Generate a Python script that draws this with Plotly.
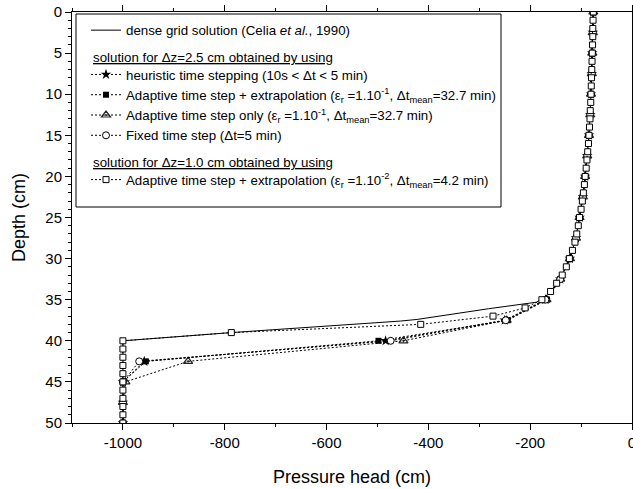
import plotly.graph_objects as go

# ---------------- data ----------------
celia_head = [-76, -78, -80.5, -84.5, -92, -103, -112, -123, -137, -148, -163, -187, -282, -422, -455, -787, -1000, -1000]
celia_depth = [0, 5, 10, 15, 20, 25, 28, 30, 32, 33, 34.3, 35.3, 36.1, 37.4, 37.6, 39.0, 40, 50]

depth_25 = [0, 2.5, 5, 7.5, 10, 12.5, 15, 17.5, 20, 22.5, 25, 27.5, 30, 32.5, 35, 37.5, 40, 42.5, 45, 47.5, 50]
heuristic = [-76, -77, -78, -79, -80.5, -82, -84.5, -88, -92, -96.5, -103, -110, -122, -141, -170, -250, -484, -958, -1000, -1000, -1000]
adaptive_extrap = [-76, -77, -78, -79, -80.5, -82, -84.5, -88, -92, -96.5, -103, -110, -122, -141, -167, -244, -498, -955, -1000, -1000, -1000]
adaptive_only = [-76, -77, -78, -79, -80.5, -82, -84.5, -88, -92, -96.5, -103, -110, -122, -141, -168, -246, -449, -872, -995, -1000, -1000]
fixed_step = [-76, -77, -78, -79, -80.5, -82, -84.5, -88, -92, -96.5, -103, -110, -122, -141, -170, -248, -474, -968, -1000, -1000, -1000]

depth_10 = [0, 1, 2, 3, 4, 5, 6, 7, 8, 9, 10, 11, 12, 13, 14, 15, 16, 17, 18, 19, 20,
            21, 22, 23, 24, 25, 26, 27, 28, 29, 30, 31, 32, 33, 34, 35, 36, 37, 38, 39, 40,
            41, 42, 43, 44, 45, 46, 47, 48, 49, 50]
adaptive_fine = [-76, -76.5, -77, -77, -77.5, -78, -78.5, -79, -79.5, -80, -80.5, -81, -82, -82.5, -83.5,
                 -84.5, -85.5, -87, -88.5, -90, -92, -93.5, -95.5, -97.5, -100, -103, -105.5, -108.5,
                 -112, -117, -123, -129, -137, -148, -160, -177, -210, -273, -415, -787, -1000,
                 -1000, -1000, -1000, -1000, -1000, -1000, -1000, -1000, -1000, -1000]

x_tickvals = [-1000, -800, -600, -400, -200, 0]
x_ticktext = ["-1000", "-800", "-600", "-400", "-200", "0"]
y_tickvals = [0, 5, 10, 15, 20, 25, 30, 35, 40, 45, 50]

names = [
    "dense grid solution (Celia <i>et al.</i>, 1990)",
    "heuristic time stepping (10s &lt; Δt &lt; 5 min)",
    "Adaptive time step + extrapolation (ε<sub>r</sub> =1.10<sup>-1</sup>, Δt<sub>mean</sub>=32.7 min)",
    "Adaptive time step only (ε<sub>r</sub> =1.10<sup>-1</sup>, Δt<sub>mean</sub>=32.7 min)",
    "Fixed time step (Δt=5 min)",
    "Adaptive time step + extrapolation (ε<sub>r</sub> =1.10<sup>-2</sup>, Δt<sub>mean</sub>=4.2 min)",
]
headings = ["solution for Δz=2.5 cm obtained by using", "solution for Δz=1.0 cm obtained by using"]

FONT = "Liberation Sans, Arial, sans-serif"
DOT = "2px,2px"

fig = go.Figure()
fig.add_trace(go.Scatter(x=celia_head, y=celia_depth, mode="lines", name=names[0],
                         line=dict(color="black", width=1), legendgroup="g1"))
fig.add_trace(go.Scatter(x=heuristic, y=depth_25, mode="lines+markers", name=names[1],
                         line=dict(color="black", width=1, dash=DOT),
                         marker=dict(symbol="star", size=8, color="black"), legendgroup="g2"))
fig.add_trace(go.Scatter(x=adaptive_extrap, y=depth_25, mode="lines+markers", name=names[2],
                         line=dict(color="black", width=1, dash=DOT),
                         marker=dict(symbol="square", size=6, color="black"), legendgroup="g2"))
fig.add_trace(go.Scatter(x=adaptive_only, y=depth_25, mode="lines+markers", name=names[3],
                         line=dict(color="black", width=1, dash=DOT),
                         marker=dict(symbol="triangle-up-open-dot", size=8, color="#222",
                                     line=dict(width=1.2)), legendgroup="g2"))
fig.add_trace(go.Scatter(x=fixed_step, y=depth_25, mode="lines+markers", name=names[4],
                         line=dict(color="black", width=1, dash=DOT),
                         marker=dict(symbol="circle", size=7, color="white",
                                     line=dict(color="black", width=1)), legendgroup="g2"))
fig.add_trace(go.Scatter(x=adaptive_fine, y=depth_10, mode="lines+markers", name=names[5],
                         line=dict(color="black", width=1, dash=DOT),
                         marker=dict(symbol="square", size=6, color="white",
                                     line=dict(color="black", width=1)), legendgroup="g3"))

L, R, T, B = 72, 632, 12, 423
W, H = 633, 489

def px2paper(x, y):
    return (x - L) / (R - L), 1 - (y - T) / (B - T)

for txt, (hx, hy) in zip(headings, [(91, 58), (91, 162)]):
    ax, ay = px2paper(hx, hy)
    fig.add_annotation(x=ax, y=ay, xref="paper", yref="paper", xanchor="left", yanchor="middle",
                       text="<u>" + txt + "</u>", showarrow=False,
                       font=dict(family=FONT, size=13.3, color="black"))

# legend frame
bx0, by0 = px2paper(76, 14)
bx1, by1 = px2paper(501, 207)
fig.add_shape(type="rect", xref="paper", yref="paper", x0=bx0, y0=by1, x1=bx1, y1=by0,
              line=dict(color="black", width=1), fillcolor="rgba(0,0,0,0)", layer="above")

lx, ly = px2paper(86, 15)
fig.update_layout(
    width=W, height=H,
    margin=dict(l=L, r=W - R, t=T, b=H - B),
    paper_bgcolor="white", plot_bgcolor="white",
    font=dict(family=FONT, color="black"),
    showlegend=True,
    legend=dict(x=lx, y=ly, xanchor="left", yanchor="top", bgcolor="rgba(255,255,255,0)",
                borderwidth=0, tracegroupgap=24,
                font=dict(family=FONT, size=13.3, color="black"), traceorder="grouped"),
    xaxis=dict(range=[-1100, 0], tickvals=x_tickvals, ticktext=x_ticktext, automargin=False,
               ticklabeloverflow="allow",
               showgrid=False, zeroline=False, showline=True, linecolor="black", linewidth=1,
               mirror="ticks", ticks="outside", ticklen=6, tickwidth=1, tickcolor="black",
               minor=dict(dtick=100, ticks="outside", ticklen=3, tickcolor="black", showgrid=False),
               tickfont=dict(size=15),
               title=dict(text="Pressure head (cm)", font=dict(size=18), standoff=20)),
    yaxis=dict(range=[50, 0], tickvals=y_tickvals, automargin=False,
               ticklabeloverflow="allow",
               showgrid=False, zeroline=False, showline=True, linecolor="black", linewidth=1,
               mirror="ticks", ticks="outside", ticklen=6, tickwidth=1, tickcolor="black",
               minor=dict(dtick=1, ticks="outside", ticklen=3, tickcolor="black", showgrid=False),
               tickfont=dict(size=15),
               title=dict(text="Depth (cm)", font=dict(size=18))),
)

fig.write_html("out.html", config={"displayModeBar": False},
               post_script="document.body.style.margin='0';document.body.style.padding='0';")
